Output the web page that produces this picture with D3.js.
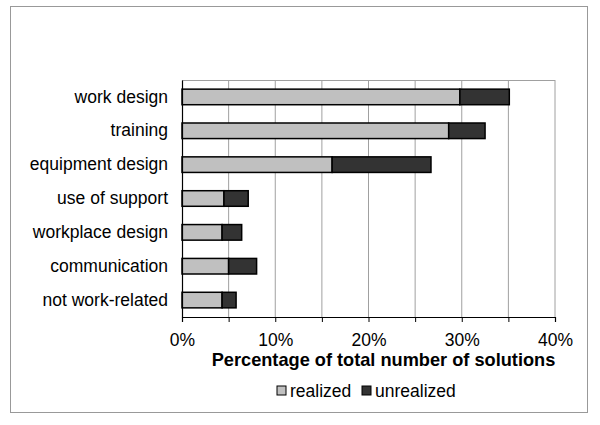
<!DOCTYPE html>
<html>
<head>
<meta charset="utf-8">
<script src="https://cdn.jsdelivr.net/npm/d3@7"></script>
<style>
  body { margin: 0; background: #fff; }
  svg text { font-family: "Liberation Sans", Arial, sans-serif; fill: #000; }
</style>
</head>
<body>
<svg id="chart" width="600" height="425"></svg>
<script>
const categories = ['work design', 'training', 'equipment design', 'use of support',
    'workplace design', 'communication', 'not work-related'];
const realized = [29.8, 28.6, 16.1, 4.5, 4.3, 5.0, 4.3];
const unrealized = [5.3, 3.9, 10.6, 2.6, 2.1, 3.0, 1.5];
const seriesNames = ['realized', 'unrealized'];
const xTicks = [0, 10, 20, 30, 40];

const colors = { realized: '#c0c0c0', unrealized: '#333333' };

const svg = d3.select('#chart');
const margin = { top: 80, right: 45, bottom: 108, left: 182 };
const width = 600 - margin.left - margin.right;
const height = 425 - margin.top - margin.bottom;

// outer frame
svg.append('rect')
    .attr('x', 10.5).attr('y', 6.5)
    .attr('width', 577).attr('height', 406)
    .attr('fill', '#fff').attr('stroke', '#999').attr('stroke-width', 1);

const g = svg.append('g').attr('transform', `translate(${margin.left},${margin.top})`);

const x = d3.scaleLinear().domain([0, 40]).range([0, width]);
const y = d3.scaleBand().domain(categories).range([0, height]).paddingInner(0.54).paddingOuter(0.27);

// gridlines every 5%
g.append('g')
    .selectAll('line')
    .data(d3.range(5, 41, 5))
    .enter().append('line')
    .attr('x1', d => x(d)).attr('x2', d => x(d))
    .attr('y1', 0).attr('y2', height)
    .attr('stroke', '#a0a0a0').attr('stroke-width', 1);

// plot top border
g.append('line')
    .attr('x1', 0).attr('x2', width).attr('y1', 0.5).attr('y2', 0.5)
    .attr('stroke', '#a0a0a0');

// stacked bars
const rows = categories.map((c, i) => ({ name: c, realized: realized[i], unrealized: unrealized[i] }));
const stack = d3.stack().keys(seriesNames)(rows);

g.selectAll('.series')
    .data(stack)
    .enter().append('g')
    .attr('class', 'series')
    .attr('fill', d => colors[d.key])
    .selectAll('rect')
    .data(d => d)
    .enter().append('rect')
    .attr('x', d => x(d[0]))
    .attr('y', d => y(d.data.name))
    .attr('width', d => x(d[1]) - x(d[0]))
    .attr('height', y.bandwidth())
    .attr('stroke', '#000')
    .attr('stroke-width', 1.5);

// x axis
const xAxis = g.append('g')
    .attr('transform', `translate(0,${height})`)
    .call(d3.axisBottom(x).tickValues(d3.range(0, 41, 5)).tickSize(5).tickFormat(d => xTicks.includes(d) ? d + '%' : ''));
xAxis.select('.domain').attr('stroke', '#000').attr('stroke-width', 1.2);
xAxis.selectAll('.tick line').attr('stroke', '#000');
xAxis.selectAll('.tick text')
    .attr('font-size', 17.5)
    .attr('font-family', '"Liberation Sans", Arial, sans-serif')
    .attr('fill', '#000')
    .attr('dy', '1.2em');

// y axis
const yAxis = g.append('g')
    .call(d3.axisLeft(y).tickSize(0).tickPadding(14));
yAxis.select('.domain').attr('stroke', '#000').attr('stroke-width', 1.2);
yAxis.selectAll('.tick text')
    .attr('font-size', 17.5)
    .attr('font-family', '"Liberation Sans", Arial, sans-serif')
    .attr('fill', '#000');

// axis title
g.append('text')
    .attr('x', width / 2 + 15)
    .attr('y', height + 49)
    .attr('text-anchor', 'middle')
    .attr('font-size', 18.2)
    .attr('font-weight', 'bold')
    .text('Percentage of total number of solutions');

// legend
const legend = svg.append('g').attr('transform', 'translate(277,386)');
const legendX = [0, 85];
seriesNames.forEach((s, i) => {
    const item = legend.append('g').attr('transform', `translate(${legendX[i]},0)`);
    item.append('rect')
        .attr('width', 9).attr('height', 9)
        .attr('fill', colors[s]).attr('stroke', '#000').attr('stroke-width', 1);
    item.append('text')
        .attr('x', 13).attr('y', 11)
        .attr('font-size', 17.5)
        .text(s);
});
</script>
</body>
</html>
